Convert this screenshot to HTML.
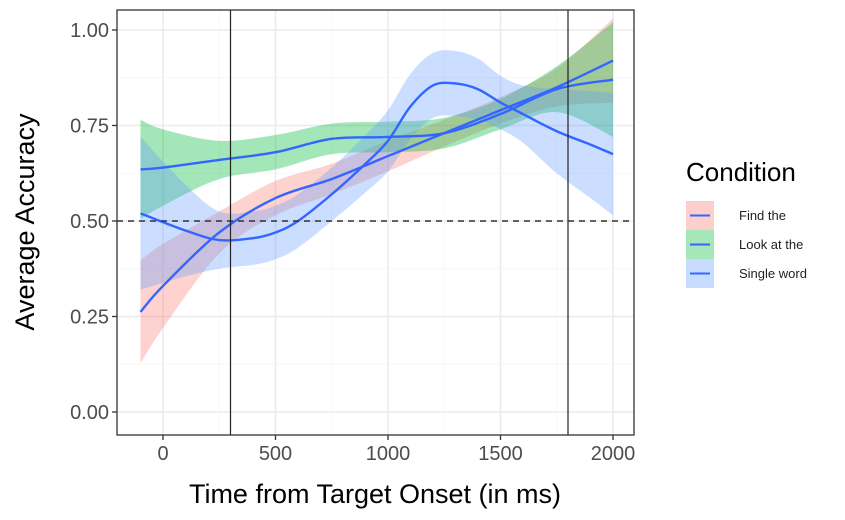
<!DOCTYPE html>
<html><head><meta charset="utf-8"><style>
body{margin:0;background:#fff;}
svg{display:block;font-family:"Liberation Sans",Arial,sans-serif;}
</style></head><body>
<svg id="chart" width="845" height="520" viewBox="0 0 845 520">
<g id="grid"></g>
<g id="bands"></g>
<g id="lines"></g>
<g id="axes"></g>
<text x="375" y="503" font-size="27" text-anchor="middle" fill="#000">Time from Target Onset (in ms)</text>
<text transform="translate(34,222) rotate(-90)" font-size="27" text-anchor="middle" fill="#000">Average Accuracy</text>
<g>
<text x="686" y="181" font-size="26" fill="#000">Condition</text>
<g><rect x="686" y="201" width="28" height="29" fill="#f8766d" opacity="0.35"/><line x1="690" x2="710" y1="215.5" y2="215.5" stroke="#3366ff" stroke-width="2"/><text x="739" y="220" font-size="13" fill="#222">Find the</text></g>
<g><rect x="686" y="230" width="28" height="29" fill="#00ba38" opacity="0.35"/><line x1="690" x2="710" y1="244.5" y2="244.5" stroke="#3366ff" stroke-width="2"/><text x="739" y="249" font-size="13" fill="#222">Look at the</text></g>
<g><rect x="686" y="259" width="28" height="29" fill="#619cff" opacity="0.35"/><line x1="690" x2="710" y1="273.5" y2="273.5" stroke="#3366ff" stroke-width="2"/><text x="739" y="278" font-size="13" fill="#222">Single word</text></g>
</g>
</svg>
<script>
const xTicks=[0,500,1000,1500,2000];
const yTicks=[0,0.25,0.5,0.75,1.0];
const yTickLabels=["0.00","0.25","0.50","0.75","1.00"];
const findX=[-100,0,250,500,750,1000,1250,1500,1750,2000];
const findY=[0.262,0.33,0.47,0.56,0.61,0.67,0.73,0.79,0.85,0.92];
const findW=[0.135,0.11,0.055,0.045,0.04,0.04,0.035,0.035,0.05,0.11];
const lookX=[-100,0,250,500,750,1000,1250,1500,1750,2000];
const lookY=[0.635,0.64,0.66,0.68,0.715,0.72,0.73,0.78,0.845,0.87];
const lookW=[0.13,0.1,0.05,0.045,0.04,0.04,0.04,0.04,0.06,0.15];
const singleX=[-100,100,250,400,500,600,750,900,1000,1100,1200,1300,1400,1500,1600,1750,1900,2000];
const singleY=[0.52,0.475,0.45,0.455,0.47,0.5,0.57,0.65,0.71,0.8,0.855,0.86,0.845,0.81,0.78,0.735,0.7,0.675];
const singleW=[0.2,0.12,0.075,0.07,0.07,0.07,0.07,0.075,0.08,0.085,0.085,0.085,0.08,0.07,0.075,0.11,0.14,0.16];
const refLinesX=[300,1800];
const chanceY=0.5;

const L=117,R=634,T=10,B=435;
const sx=v=>163+(v-0)*(613-163)/2000;
const sy=v=>412-v*(412-30);
const NS="http://www.w3.org/2000/svg";
function mk(tag,attrs,parent){const e=document.createElementNS(NS,tag);for(const k in attrs)e.setAttribute(k,attrs[k]);parent.appendChild(e);return e;}
function spline(pts){let d="M"+pts[0][0]+","+pts[0][1];for(let i=0;i<pts.length-1;i++){const p0=pts[i-1]||pts[i],p1=pts[i],p2=pts[i+1],p3=pts[i+2]||p2;const c1=[p1[0]+(p2[0]-p0[0])/6,p1[1]+(p2[1]-p0[1])/6],c2=[p2[0]-(p3[0]-p1[0])/6,p2[1]-(p3[1]-p1[1])/6];d+=" C"+c1+" "+c2+" "+p2;}return d;}
const grid=document.getElementById('grid');
mk('rect',{x:L,y:T,width:R-L,height:B-T,fill:'#fff'},grid);
for(let i=0;i<xTicks.length;i++){const l=mk('line',{x1:sx(xTicks[i]),x2:sx(xTicks[i]),y1:T,y2:B,stroke:'#ebebeb','stroke-width':1.6},grid);
 if(i<xTicks.length-1){const m=(xTicks[i]+xTicks[i+1])/2;mk('line',{x1:sx(m),x2:sx(m),y1:T,y2:B,stroke:'#f3f3f3','stroke-width':0.8},grid);}}
for(let i=0;i<yTicks.length;i++){const l=mk('line',{x1:L,x2:R,y1:sy(yTicks[i]),y2:sy(yTicks[i]),stroke:'#ebebeb','stroke-width':1.6},grid);
 if(i<yTicks.length-1){const m=(yTicks[i]+yTicks[i+1])/2;mk('line',{x1:L,x2:R,y1:sy(m),y2:sy(m),stroke:'#f3f3f3','stroke-width':0.8},grid);}}
const series=[["find-the",findX,findY,findW,"#f8766d"],["look-at-the",lookX,lookY,lookW,"#00ba38"],["single-word",singleX,singleY,singleW,"#619cff"]];
const bands=document.getElementById('bands'),lines=document.getElementById('lines');
series.forEach(s=>{const [n,X,Y,W,c]=s;
 const up=X.map((x,i)=>[sx(x),sy(Y[i]+W[i])]);const lo=X.map((x,i)=>[sx(x),sy(Y[i]-W[i])]).reverse();
 const d=spline(up)+" L"+lo[0]+" "+spline(lo).slice(1)+" Z";
 const b=mk('path',{d:d,fill:c,opacity:n==="look-at-the"?0.36:0.33},bands);
 
 
});
series.forEach(s=>{const [n,X,Y]=s;
 const ln=mk('path',{d:spline(X.map((x,i)=>[sx(x),sy(Y[i])])),fill:'none',stroke:'#3366ff','stroke-width':2.4},lines);
 
 
});
const axes=document.getElementById('axes');
const ch=mk('line',{x1:L,x2:R,y1:sy(chanceY),y2:sy(chanceY),stroke:'#333','stroke-width':1.4,'stroke-dasharray':'6,5'},axes);


refLinesX.forEach(v=>{const r=mk('line',{x1:sx(v),x2:sx(v),y1:T,y2:B,stroke:'#222','stroke-width':1.2},axes);
 
 });
mk('rect',{x:L,y:T,width:R-L,height:B-T,fill:'none',stroke:'#333','stroke-width':1.3},axes);
xTicks.forEach(v=>{mk('line',{x1:sx(v),x2:sx(v),y1:B,y2:B+5,stroke:'#333','stroke-width':1.3},axes);
 const t=mk('text',{x:sx(v),y:B+25,'font-size':20,'text-anchor':'middle',fill:'#4d4d4d'},axes);t.textContent=v;
 
 });
yTicks.forEach((v,i)=>{mk('line',{x1:L-5,x2:L,y1:sy(v),y2:sy(v),stroke:'#333','stroke-width':1.3},axes);
 const t=mk('text',{x:L-8,y:sy(v)+7,'font-size':20,'text-anchor':'end',fill:'#4d4d4d'},axes);t.textContent=yTickLabels[i];
 
 });
</script>
</body></html>
